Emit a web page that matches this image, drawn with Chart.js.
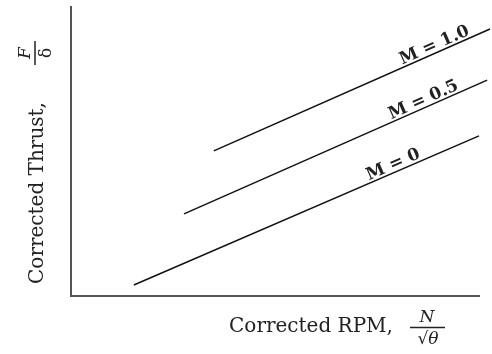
<!DOCTYPE html>
<html>
<head>
<meta charset="utf-8">
<script src="https://cdn.jsdelivr.net/npm/chart.js@4.4.0/dist/chart.umd.min.js"></script>
<style>
  html, body { margin: 0; padding: 0; background: #ffffff; }
  #wrap { width: 492px; height: 354px; }
</style>
</head>
<body>
<div id="wrap"><canvas id="chart" width="492" height="354"></canvas></div>
<script>
// Mach number curves, corrected RPM vs corrected thrust (arbitrary units, 0-100)
const machLabels = ['M = 0', 'M = 0.5', 'M = 1.0'];
const rpmM0 = [15.4, 100];
const thrustM0 = [3.8, 55.4];
const rpmM05 = [27.7, 102];
const thrustM05 = [28.4, 74.7];
const rpmM10 = [35, 102.7];
const thrustM10 = [50.2, 92.4];

const rpmSets = [rpmM0, rpmM05, rpmM10];
const thrustSets = [thrustM0, thrustM05, thrustM10];

const serif = '"DejaVu Serif", "Liberation Serif", serif';

const textPlugin = {
  id: 'textPlugin',
  afterDraw(chart) {
    const ctx = chart.ctx;
    const xs = chart.scales.x, ys = chart.scales.y;
    ctx.save();
    ctx.fillStyle = '#222';
    ctx.strokeStyle = '#222';

    // line labels, rotated along each line
    const along = [0.76, 0.8, 0.81];
    chart.data.datasets.forEach((ds, i) => {
      const p0 = ds.data[0], p1 = ds.data[1];
      const x0 = xs.getPixelForValue(p0.x), y0 = ys.getPixelForValue(p0.y);
      const x1 = xs.getPixelForValue(p1.x), y1 = ys.getPixelForValue(p1.y);
      const ang = Math.atan2(y1 - y0, x1 - x0);
      const t = along[i];
      ctx.save();
      ctx.translate(x0 + (x1 - x0) * t, y0 + (y1 - y0) * t);
      ctx.rotate(ang);
      ctx.font = 'bold 17px ' + serif;
      ctx.textAlign = 'center';
      ctx.textBaseline = 'alphabetic';
      ctx.fillText(ds.label, 0, -3);
      ctx.restore();
    });

    // y axis title
    ctx.save();
    ctx.translate(38, 193);
    ctx.rotate(-Math.PI / 2);
    ctx.font = '20px ' + serif;
    ctx.textAlign = 'center';
    ctx.textBaseline = 'middle';
    ctx.fillText('Corrected Thrust,', 0, 0);
    ctx.restore();

    // y fraction F / delta
    ctx.save();
    ctx.translate(35, 53);
    ctx.rotate(-Math.PI / 2);
    ctx.font = 'italic 17px ' + serif;
    ctx.textAlign = 'center';
    ctx.textBaseline = 'alphabetic';
    ctx.fillText('F', 0, -5);
    ctx.textBaseline = 'top';
    ctx.font = '17px ' + serif;
    ctx.fillText('δ', 0, 3);
    ctx.lineWidth = 1.5;
    ctx.beginPath();
    ctx.moveTo(-12, 0);
    ctx.lineTo(12, 0);
    ctx.stroke();
    ctx.restore();

    // x axis title
    ctx.font = '20px ' + serif;
    ctx.textAlign = 'center';
    ctx.textBaseline = 'middle';
    ctx.fillText('Corrected RPM,', 311, 327);

    // x fraction N / sqrt(theta)
    ctx.font = 'italic 17px ' + serif;
    ctx.textBaseline = 'alphabetic';
    ctx.fillText('N', 427, 322);
    ctx.textBaseline = 'top';
    ctx.fillText('√θ', 428, 331);
    ctx.lineWidth = 1.5;
    ctx.beginPath();
    ctx.moveTo(410, 327.5);
    ctx.lineTo(445, 327.5);
    ctx.stroke();

    ctx.restore();
  }
};

new Chart(document.getElementById('chart'), {
  type: 'scatter',
  data: {
    datasets: machLabels.map((label, i) => ({
      label: label,
      data: rpmSets[i].map((x, j) => ({ x: x, y: thrustSets[i][j] })),
      showLine: true,
      borderColor: '#111',
      borderWidth: 1.5,
      pointRadius: 0,
      clip: false
    }))
  },
  options: {
    responsive: false,
    animation: false,
    layout: { padding: { left: 63, right: 13, top: 7, bottom: 50 } },
    plugins: {
      legend: { display: false },
      tooltip: { enabled: false },
      title: { display: false }
    },
    scales: {
      x: {
        type: 'linear',
        min: 0,
        max: 100,
        grid: { display: false },
        ticks: { display: false },
        border: { display: true, color: '#555', width: 2 }
      },
      y: {
        type: 'linear',
        min: 0,
        max: 100,
        grid: { display: false },
        ticks: { display: false },
        border: { display: true, color: '#555', width: 2 }
      }
    }
  },
  plugins: [textPlugin]
});
</script>
</body>
</html>
